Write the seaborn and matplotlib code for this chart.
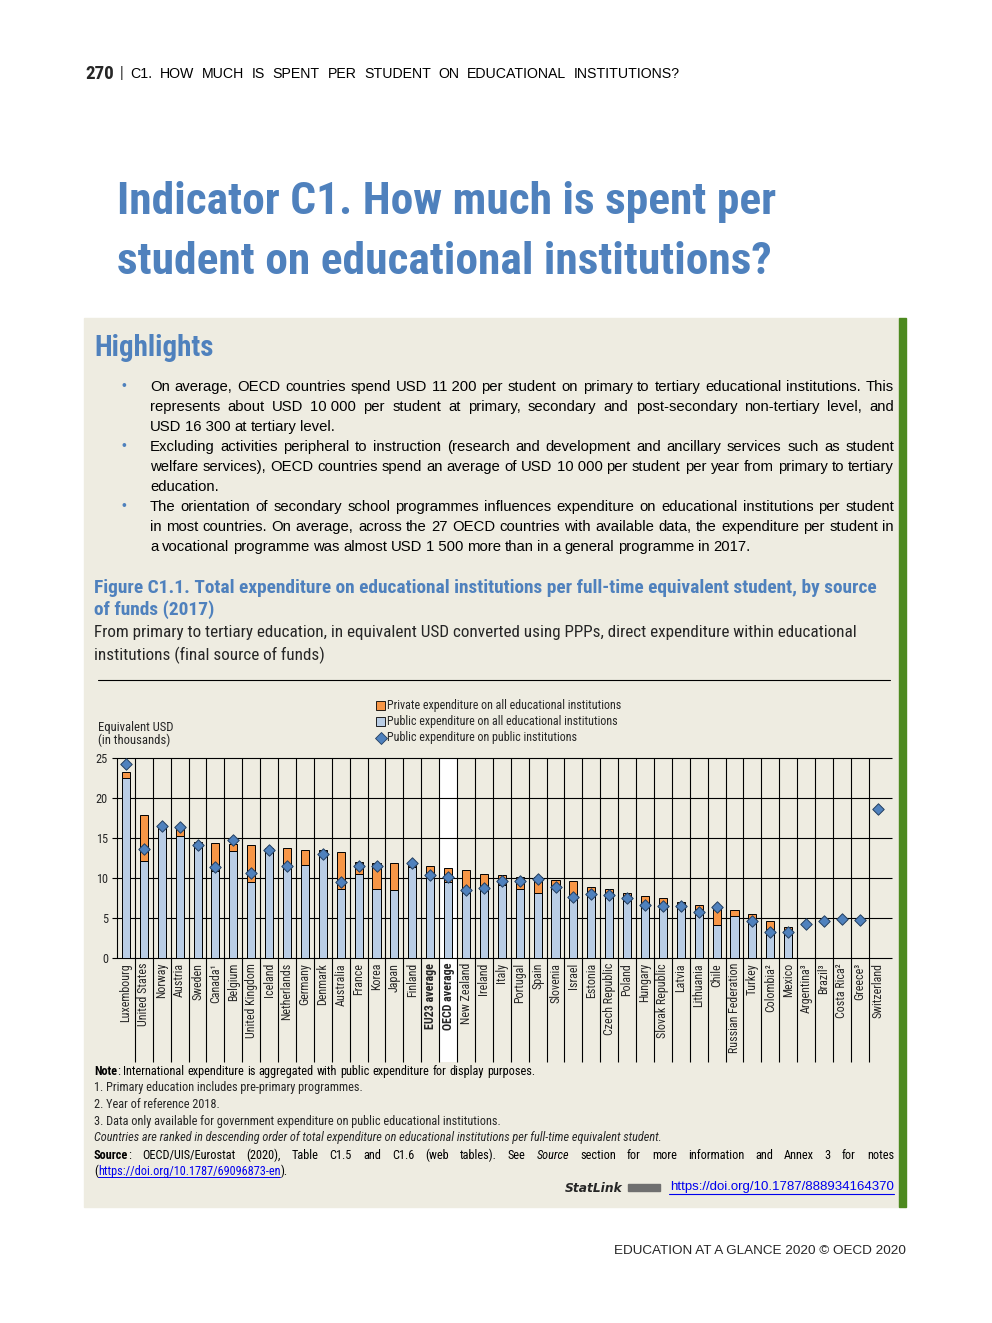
import numpy as np
import pandas as pd
import matplotlib
matplotlib.use('Agg')
import matplotlib.pyplot as plt
from matplotlib.patches import Rectangle
import seaborn as sns

# data (USD thousands)
countries = ['Luxembourg', 'United States', 'Norway', 'Austria', 'Sweden', 'Canada\u00b9',
             'Belgium', 'United Kingdom', 'Iceland', 'Netherlands', 'Germany', 'Denmark',
             'Australia', 'France', 'Korea', 'Japan', 'Finland', 'EU23 average', 'OECD average',
             'New Zealand', 'Ireland', 'Italy', 'Portugal', 'Spain', 'Slovenia', 'Israel',
             'Estonia', 'Czech Republic', 'Poland', 'Hungary', 'Slovak Republic', 'Latvia',
             'Lithuania', 'Chile', 'Russian Federation', 'Turkey', 'Colombia\u00b2', 'Mexico',
             'Argentina\u00b3', 'Brazil\u00b3', 'Costa Rica\u00b2', 'Greece\u00b3', 'Switzerland']
total = [23.3, 17.9, 16.6, 16.4, 14.5, 14.4, 14.3, 14.1, 13.8, 13.8, 13.5, 13.5,
         13.3, 12.0, 11.9, 11.9, 11.6, 11.5, 11.2, 11.0, 10.5, 10.4, 10.1, 10.1,
         9.8, 9.6, 8.9, 8.6, 8.1, 7.8, 7.5, 7.0, 6.6, 6.5, 6.0, 5.5, 4.6, 3.9,
         np.nan, np.nan, np.nan, np.nan, np.nan]
public_all = [22.5, 12.1, 16.4, 15.3, 14.3, 10.9, 13.4, 9.5, 13.5, 11.3, 11.6, 13.3,
              8.6, 10.5, 8.6, 8.5, 11.4, 10.0, 9.5, 8.1, 8.8, 9.1, 8.6, 8.1,
              9.0, 7.7, 8.2, 7.7, 7.1, 6.8, 6.8, 6.8, 6.1, 4.1, 5.3, 4.7, 3.6, 3.5,
              np.nan, np.nan, np.nan, np.nan, np.nan]
public_inst = [24.2, 13.6, 16.5, 16.4, 14.1, 11.4, 14.8, 10.6, 13.5, 11.5, np.nan, 13.0,
               9.5, 11.5, 11.5, np.nan, 11.9, 10.4, 10.1, 8.5, 8.8, 9.6, 9.6, 9.9,
               8.9, 7.6, 8.0, 7.9, 7.5, 6.6, 6.5, 6.5, 5.8, 6.4, np.nan, 4.6, 3.2, 3.3,
               4.3, 4.6, 4.9, 4.8, 18.6]
bold_labels = ['EU23 average', 'OECD average']

BLUE = '#4F81BD'
BEIGE = '#EEECE1'
ORANGE = '#F79646'
LIGHT = '#B9CDE5'
GREEN = '#4D8A1F'
LINK = '#0000EE'
NARROW = ['Roboto Condensed', 'Liberation Sans', 'DejaVu Sans']
REG = ['Liberation Sans', 'DejaVu Sans']

sns.set_style('white')
plt.rcParams['font.family'] = NARROW

fig = plt.figure(figsize=(9.92, 13.23), dpi=100)
bg = fig.add_axes([0, 0, 1, 1], zorder=0)
bg.set_xlim(0, 992)
bg.set_ylim(1323, 0)
bg.axis('off')
renderer = fig.canvas.get_renderer()


def fit(text, width, family=NARROW, **kw):
    # font size that gives the text the width seen in the reference
    t = bg.text(0, 0, text, fontsize=10, family=family, **kw)
    w = t.get_window_extent(renderer).width
    t.remove()
    return 10 * width / w


def justify(words, x0, x1, y, size, family, last=False, color='black'):
    # words: list of words, each word a list of (text, props) pieces
    base = y + 0.36 * size * 100 / 72
    items = []
    for word in words:
        pieces = []
        for txt, props in word:
            t = bg.text(0, base, txt, fontsize=size, family=family, va='baseline',
                        color=props.get('color', color),
                        fontweight=props.get('weight', 'normal'),
                        fontstyle=props.get('style', 'normal'))
            pieces.append((t, t.get_window_extent(renderer).width))
        items.append(pieces)
    widths = [sum(w for _, w in p) for p in items]
    space = size * 0.25 * 100 / 72
    if not last and len(items) > 1:
        space = (x1 - x0 - sum(widths)) / (len(items) - 1)
    x = x0
    for pieces, w in zip(items, widths):
        xx = x
        for t, pw in pieces:
            t.set_x(xx)
            xx += pw
        x += w + space
    return items


def plain(line):
    return [[(w.replace('_', '\u00a0'), {})] for w in line.split(' ')]


# page header
bg.text(85, 74, '270', fontsize=fit('270', 29, weight='bold'), fontweight='bold', va='center')
bg.text(120, 73, '|', fontsize=10, family=REG, va='center')
hdr = 'C1. HOW MUCH IS SPENT PER STUDENT ON EDUCATIONAL INSTITUTIONS?'
justify(plain(hdr), 130, 680, 73, fit(hdr, 515, family=REG), REG)

# indicator title
ts = fit('Indicator C1. How much is spent per', 660, weight='bold')
bg.text(117, 202, 'Indicator C1. How much is spent per', fontsize=ts, fontweight='bold',
        color=BLUE, va='center')
bg.text(117, 262, 'student on educational institutions?', fontsize=ts, fontweight='bold',
        color=BLUE, va='center')

# highlights box
bg.add_patch(Rectangle((84, 318), 815, 889, color=BEIGE, zorder=0))
bg.add_patch(Rectangle((899, 318), 7, 889, color=GREEN, zorder=0))
bg.text(94, 348, 'Highlights', fontsize=fit('Highlights', 119, weight='bold'), fontweight='bold',
        color=BLUE, va='center')

paras = [
    ['On average, OECD countries spend USD 11_200 per student on primary to tertiary educational institutions. This',
     'represents about USD 10_000 per student at primary, secondary and post-secondary non-tertiary level, and',
     'USD 16_300 at tertiary level.'],
    ['Excluding activities peripheral to instruction (research and development and ancillary services such as student',
     'welfare services), OECD countries spend an average of USD 10_000 per student per year from primary to tertiary',
     'education.'],
    ['The orientation of secondary school programmes influences expenditure on educational institutions per student',
     'in most countries. On average, across the 27 OECD countries with available data, the expenditure per student in',
     'a vocational programme was almost USD 1_500 more than in a general programme in 2017.'],
]
hs = fit(paras[2][2].replace('_', '\u00a0'), 610, family=REG)
y = 386
for para in paras:
    bg.text(124, y, '\u2022', fontsize=10, color=BLUE, va='center', ha='center', family=REG)
    for i, line in enumerate(para):
        justify(plain(line), 150, 894, y, hs, REG, last=(i == len(para) - 1))
        y += 20

# figure title
cap1 = 'Figure C1.1. Total expenditure on educational institutions per full-time equivalent student, by source'
cs = fit(cap1, 782, weight='bold')
bg.text(94, 588, cap1, fontsize=cs, fontweight='bold', color=BLUE, va='center')
bg.text(94, 610, 'of funds (2017)', fontsize=cs, fontweight='bold', color=BLUE, va='center')
sub1 = 'From primary to tertiary education, in equivalent USD converted using PPPs, direct expenditure within educational'
ss = fit(sub1, 758)
bg.text(94, 633, sub1, fontsize=ss, va='center')
bg.text(94, 655, 'institutions (final source of funds)', fontsize=ss, va='center')
bg.plot([98, 890], [680, 680], color='black', lw=0.8)

# legend
leg = ['Private expenditure on all educational institutions',
       'Public expenditure on all educational institutions',
       'Public expenditure on public institutions']
ls = fit(leg[0], 233)
bg.add_patch(Rectangle((376, 700.5), 9, 9, facecolor=ORANGE, edgecolor='black', lw=0.6))
bg.add_patch(Rectangle((376, 716.5), 9, 9, facecolor=LIGHT, edgecolor='black', lw=0.6))
bg.plot([380.5], [738], marker='D', ms=6, color=BLUE, mec='#243F60', mew=0.6)
for yy, lab in zip([705, 721, 738], leg):
    bg.text(387, yy, lab, fontsize=ls, va='center')
es = fit('Equivalent USD', 75)
bg.text(98, 728, 'Equivalent USD', fontsize=es, va='center')
bg.text(98, 740, '(in thousands)', fontsize=es, va='center')

# chart
df = pd.DataFrame({'country': countries, 'total': total, 'public': public_all, 'inst': public_inst})
n = len(countries)
ax = fig.add_axes([117 / 992, 1 - 958 / 1323, 775 / 992, 200 / 1323], zorder=2)
ax.set_facecolor('none')
sns.barplot(data=df, x='country', y='total', order=countries, color=ORANGE, saturation=1,
            width=0.45, edgecolor='black', linewidth=0.7, errorbar=None, ax=ax, zorder=3)
sns.barplot(data=df, x='country', y='public', order=countries, color=LIGHT, saturation=1,
            width=0.45, edgecolor='black', linewidth=0.7, errorbar=None, ax=ax, zorder=3)
sns.scatterplot(x=np.arange(n), y=df['inst'], marker='D', s=34, color=BLUE,
                edgecolor='#243F60', linewidth=0.7, ax=ax, zorder=5, legend=False)

oecd_i = countries.index('OECD average')
ax.fill_between([oecd_i - 0.5, oecd_i + 0.5], -13, 25, color='white', lw=0, clip_on=False, zorder=0)
ax.hlines(np.arange(0, 26, 5), -0.78, 42.8, color='black', lw=0.8, clip_on=False, zorder=1)
ax.vlines(np.arange(0.5, n - 0.5, 1), -13, 25, color='black', lw=0.8, clip_on=False, zorder=1)
ax.vlines(-0.5, 0, 25, color='black', lw=0.8, clip_on=False, zorder=1)
ax.set_xlim(-0.5, 42.8)
ax.set_ylim(0, 25)
sns.despine(ax=ax, left=True, bottom=True)
ax.set_xlabel('')
ax.set_ylabel('')
ax.set_yticks(np.arange(0, 26, 5))
ax.tick_params(length=0)
ax.tick_params(axis='y', pad=6.5, labelsize=fit('25', 12))
ax.tick_params(axis='x', pad=3.6)
ax.set_xticks(np.arange(n))
ax.set_xticklabels(countries, rotation=90, fontsize=fit('Russian Federation', 90), va='top')
for lab in ax.get_xticklabels():
    if lab.get_text() in bold_labels:
        lab.set_fontweight('bold')

# notes
note = 'International expenditure is aggregated with public expenditure for display purposes.'
fs = fit('1. Primary education includes pre-primary programmes.', 268)
justify([[('Note', {'weight': 'bold'}), (':', {})]] + plain(note), 94, 894, 1071, fs, NARROW, last=True)
bg.text(94, 1088, '1. Primary education includes pre-primary programmes.', fontsize=fs, va='center')
bg.text(94, 1105, '2. Year of reference 2018.', fontsize=fs, va='center')
bg.text(94, 1122, '3. Data only available for government expenditure on public educational institutions.',
        fontsize=fs, va='center')
bg.text(94, 1138, 'Countries are ranked in descending order of total expenditure on educational institutions per full-time equivalent student.',
        fontsize=fs, va='center', fontstyle='italic')
src = ([[('Source', {'weight': 'bold'}), (':', {})]] +
       plain('OECD/UIS/Eurostat (2020), Table C1.5 and C1.6 (web tables). See') +
       [[('Source', {'style': 'italic'})]] +
       plain('section for more information and Annex 3 for notes'))
justify(src, 94, 894, 1155, fs, NARROW)
items = justify([[('(', {}), ('https://doi.org/10.1787/69096873-en', {'color': LINK}), (').', {})]],
                94, 894, 1171, fs, NARROW, last=True)
link_t, link_w = items[0][1]
lx = link_t.get_position()[0]
bg.plot([lx, lx + link_w], [1177, 1177], color=LINK, lw=0.7)

url_txt = 'https://doi.org/10.1787/888934164370'
url = bg.text(894, 1187, url_txt, fontsize=fit(url_txt, 225, family=REG), family=REG,
              color=LINK, ha='right', va='center')
bg.plot([669, 894], [1194, 1194], color=LINK, lw=0.8)
bg.add_patch(Rectangle((628, 1184), 32, 7, color='#6F6F6F'))
bg.text(623, 1188, 'StatLink', fontsize=fit('StatLink', 58, family=['DejaVu Sans'], weight='bold', style='italic'),
        family=['DejaVu Sans'], fontweight='bold', fontstyle='italic', ha='right', va='center')

# footer
foot = 'EDUCATION AT A GLANCE 2020 \u00a9 OECD 2020'
bg.text(906, 1251, foot, fontsize=fit(foot, 292, family=REG), family=REG, ha='right', va='center')

fig.savefig('out.png', dpi=100)
